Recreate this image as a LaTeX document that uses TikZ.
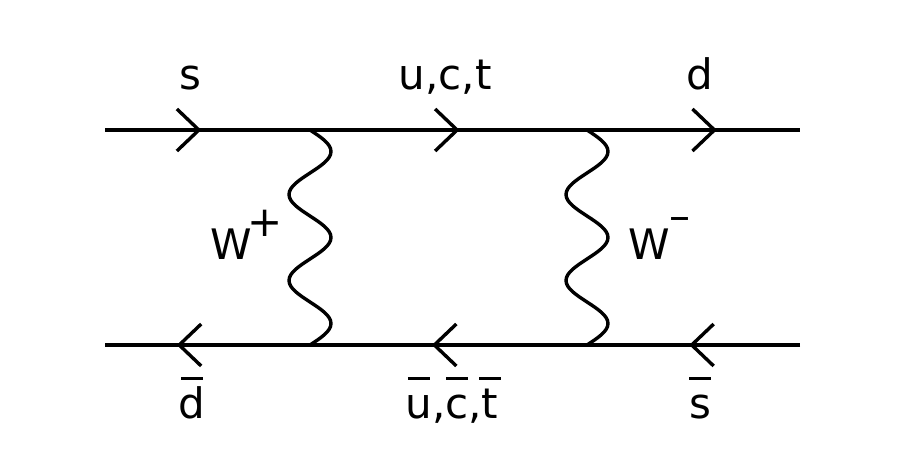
\documentclass[tikz,border=0pt]{standalone}
\usepackage{fontspec}
\setmainfont{DejaVu Sans}
\usetikzlibrary{arrows.meta,decorations.markings}
\tikzset{
  fermion/.style={line width=3.4pt, postaction={decorate},
    decoration={markings, mark=at position #1 with
      {\arrow[line width=3.4pt]{Straight Barb[length=22pt,width=42pt]}}}},
  fermion/.default=0.5,
  % two and a half sine periods, drawn downwards
  boson/.style={line width=3.4pt, to path={(\tikztostart)
    .. controls +(10.76,-7.01) and +(0,7.78) .. ++(21,-21.5)
    .. controls +(0,-7.78) and +(10.76,7.01) .. ++(-21,-21.5)
    .. controls +(-10.76,-7.01) and +(0,7.78) .. ++(-21,-21.5)
    .. controls +(0,-7.78) and +(-10.76,7.01) .. ++(21,-21.5)
    .. controls +(10.76,-7.01) and +(0,7.78) .. ++(21,-21.5)
    .. controls +(0,-7.78) and +(10.76,7.01) .. ++(-21,-21.5)
    .. controls +(-10.76,-7.01) and +(0,7.78) .. ++(-21,-21.5)
    .. controls +(0,-7.78) and +(-10.76,7.01) .. ++(21,-21.5)
    .. controls +(10.76,-7.01) and +(0,7.78) .. ++(21,-21.5)
    .. controls +(0,-7.78) and +(10.76,7.01) .. (\tikztotarget)}},
  particle/.style={font=\fontsize{42}{50}\selectfont, inner sep=0pt, anchor=base},
}
% bar over a letter, all at the same height
\newcommand\abar[1]{\leavevmode\setbox0\hbox{#1}%
  \rlap{\hbox to\wd0{\hss\rule[0.9em]{0.52em}{0.07em}\hss}}\box0}

\begin{document}
\begin{tikzpicture}[x=1pt,y=1pt]
  \useasboundingbox (0,0) rectangle (899,463);

  % vertices and ends
  \coordinate (ti) at (105,333);
  \coordinate (v1) at (310,333);
  \coordinate (v2) at (587,333);
  \coordinate (to) at (800,333);
  \coordinate (bi) at (800,118);
  \coordinate (v4) at (587,118);
  \coordinate (v3) at (310,118);
  \coordinate (bo) at (105,118);

  % quark lines
  \draw[fermion=0.47] (ti) -- (v1);
  \draw[fermion=0.54] (v1) -- (v2);
  \draw[fermion=0.61] (v2) -- (to);
  \draw[fermion=0.52] (bi) -- (v4);
  \draw[fermion=0.56] (v4) -- (v3);
  \draw[fermion=0.65] (v3) -- (bo);

  % W exchange
  \draw[boson] (v1) to (v3);
  \draw[boson] (v2) to (v4);

  % labels
  \node[particle] (s) at (190,373) {s};
  \node[particle] (uct) at (445,373) {u,c,t};
  \node[particle] (d) at (700,373) {d};
  \node[particle] (db) at (192,45) {\abar{d}};
  \node[particle] (uctb) at (452,45) {\abar{u},\abar{c},\abar{t}};
  \node[particle] (sb) at (700,45) {\abar{s}};
  \node[particle, anchor=base west] (wp) at (210,203) {W\kern-0.1em\raisebox{0.55em}{+}};
  \node[particle, anchor=base west] (wm) at (628,203) {W\raisebox{0.7em}{–}};
\end{tikzpicture}
\end{document}
